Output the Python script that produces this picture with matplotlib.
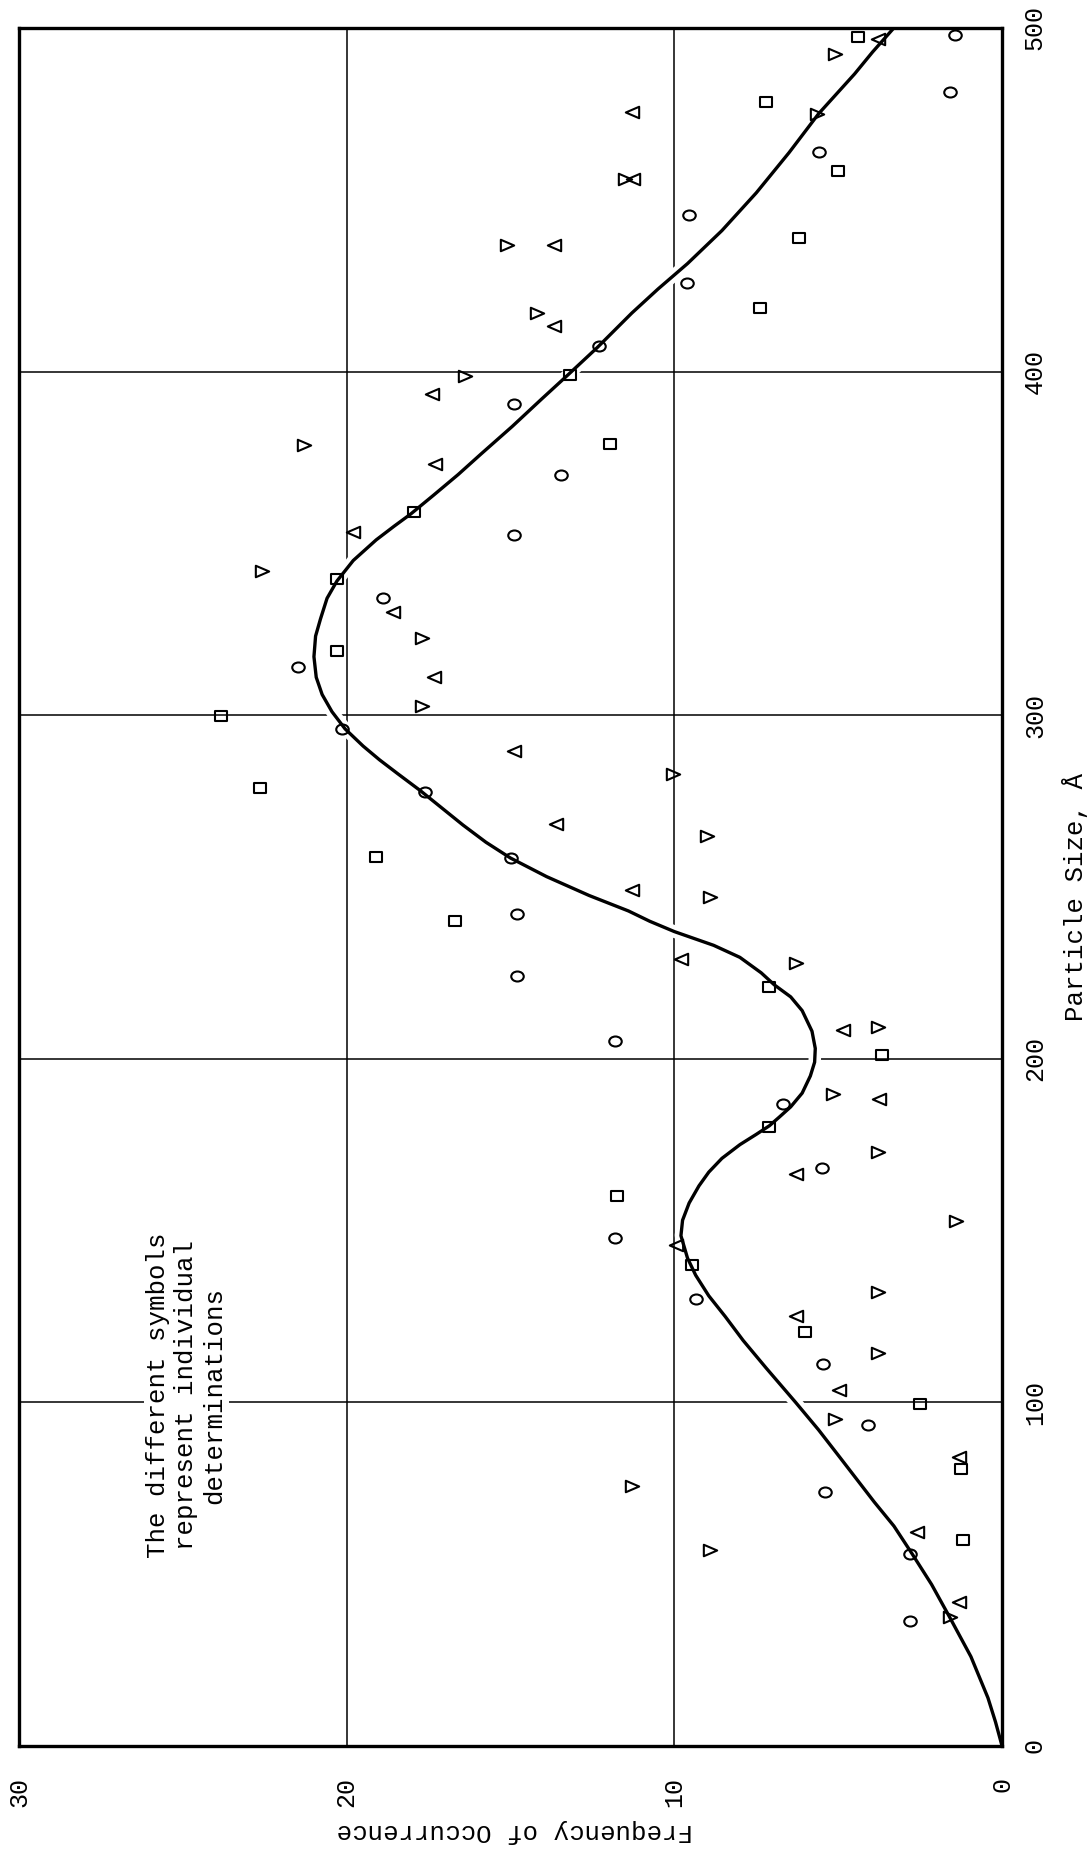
import numpy as np
import matplotlib
matplotlib.use('Agg')
import matplotlib.pyplot as plt
import matplotlib.patheffects as pe
from matplotlib.path import Path

plt.rcParams['font.family'] = ['Liberation Mono', 'DejaVu Sans Mono']

# particle size (A) and frequency of each symbol
circle_size = [498, 481.4, 464, 445.5, 425.8, 407.5, 390.5, 370, 352.5, 334,
               314, 296, 277.5, 258.5, 242, 224, 205.2, 186.9, 168.2, 147.8,
               130, 111.2, 93.5, 74, 56, 36.5]
circle_freq = [1.45, 1.6, 5.6, 9.55, 9.6, 12.3, 14.9, 13.45, 14.9, 18.9,
               21.5, 20.15, 17.6, 15.0, 14.8, 14.8, 11.8, 6.7, 5.5, 11.8,
               9.35, 5.46, 4.1, 5.4, 2.8, 2.8]

square_size = [497.4, 478.5, 458.4, 438.8, 418.5, 399, 379, 359, 339.5, 318.6,
               299.7, 278.8, 258.7, 240, 220.8, 201, 180.2, 160, 140, 120.6,
               99.6, 80.7, 59.8]
square_freq = [4.4, 7.2, 5.0, 6.2, 7.4, 13.2, 11.95, 17.96, 20.3, 20.3,
               23.85, 22.65, 19.1, 16.7, 7.1, 3.65, 7.1, 11.75, 9.45, 6.0,
               2.5, 1.25, 1.2]

left_tri_size = [496.8, 475.6, 456, 436.8, 413.3, 393.4, 373.2, 353.3, 330, 311,
                 289.5, 268.4, 249, 228.9, 208.4, 188.3, 166.4, 145.7, 125,
                 103.7, 84, 62.2, 42]
left_tri_freq = [3.8, 11.3, 11.25, 13.66, 13.66, 17.4, 17.3, 19.8, 18.6, 17.35,
                 14.9, 13.6, 11.3, 9.8, 4.85, 3.75, 6.3, 9.95, 6.3,
                 4.97, 1.3, 2.6, 1.3]

right_tri_size = [492.5, 474.8, 456, 436.7, 417, 398.7, 378.5, 341.9, 322.5, 302.6,
                  282.8, 264.8, 247, 228, 209.3, 189.8, 172.9, 152.8, 132,
                  114.4, 95.3, 75.7, 57, 37.4]
right_tri_freq = [5.1, 5.65, 11.5, 15.1, 14.2, 16.4, 21.3, 22.6, 17.7, 17.7,
                  10.05, 9.0, 8.9, 6.3, 3.8, 5.15, 3.8, 1.4, 3.8,
                  3.8, 5.1, 11.3, 8.9, 1.6]

# hand-drawn fitted curve, points read along it
curve_size = [0, 7, 14, 26, 37.5, 47, 56, 64, 71, 84, 92, 100, 110, 118, 125,
              131, 137, 142, 148.5, 153, 158, 163, 167, 171, 175, 178, 180.5,
              183, 186, 190, 195, 199, 203, 208, 214, 218, 221.5, 225, 229.5,
              233, 237, 240, 243, 247.5, 253, 258.4, 263, 268, 273, 278, 283,
              287, 291, 296, 301, 306, 311, 317, 323, 328, 334, 339, 345, 351,
              355, 358.5, 364, 370, 376, 384, 392, 399, 407, 417, 424, 431.4,
              441, 452, 463.7, 475, 486.6, 493, 500]
curve_freq = [0, 0.2, 0.43, 0.95, 1.6, 2.15, 2.75, 3.3, 3.9, 4.95, 5.6, 6.3, 7.2,
              7.9, 8.45, 8.95, 9.35, 9.6, 9.8, 9.75, 9.55, 9.25, 8.95, 8.55, 8.0,
              7.5, 7.1, 6.8, 6.45, 6.1, 5.85, 5.72, 5.7, 5.8, 6.1, 6.45, 6.95,
              7.35, 8.0, 8.8, 10.0, 10.75, 11.4, 12.6, 13.9, 15.0, 15.75, 16.45,
              17.1, 17.75, 18.45, 19.0, 19.5, 20.05, 20.45, 20.75, 20.93, 21.0,
              20.95, 20.8, 20.6, 20.3, 19.8, 19.1, 18.55, 18.05, 17.35, 16.6,
              15.9, 14.95, 14.05, 13.25, 12.35, 11.3, 10.5, 9.6, 8.55, 7.5, 6.5,
              5.6, 4.5, 3.95, 3.3]

size_ticks = [0, 100, 200, 300, 400, 500]
freq_ticks = [0, 10, 20, 30]

note = "The different symbols\nrepresent individual\ndeterminations"


def make_marker(verts):
    verts = np.asarray(verts, dtype=float)
    codes = [Path.MOVETO] + [Path.LINETO] * (len(verts) - 2) + [Path.CLOSEPOLY]
    return Path(verts, codes)


def ellipse_marker():
    circ = Path.unit_circle()
    return Path(circ.vertices * [1.0, 0.8], circ.codes)


def main():
    fig = plt.figure(figsize=(10.88, 18.59), dpi=100)
    ax = fig.add_axes([0.0175, 0.0608, 0.9035, 0.9242])

    square = make_marker([(-0.5, -0.4), (0.5, -0.4), (0.5, 0.4), (-0.5, 0.4), (0, 0)])
    right_tri = make_marker([(-0.5, -0.43), (0.5, 0), (-0.5, 0.43), (0, 0)])
    left_tri = make_marker([(0.5, -0.43), (-0.5, 0), (0.5, 0.43), (0, 0)])

    ax.plot(curve_freq, curve_size, color='black', lw=2.4, zorder=2,
            solid_joinstyle='round', solid_capstyle='round',
            path_effects=[pe.Stroke(linewidth=9, foreground='white'), pe.Normal()])

    style = dict(ls='none', mfc='none', mec='black', mew=1.5, zorder=3)
    ax.plot(circle_freq, circle_size, marker=ellipse_marker(), ms=9, **style)
    ax.plot(square_freq, square_size, marker=square, ms=9, **style)
    ax.plot(left_tri_freq, left_tri_size, marker=left_tri, ms=9.6, **style)
    ax.plot(right_tri_freq, right_tri_size, marker=right_tri, ms=9.6, **style)

    ax.set_xlim(30, 0)
    ax.set_ylim(0, 500)
    ax.set_xticks(freq_ticks)
    ax.set_yticks(size_ticks)
    ax.set_xticklabels([str(t) for t in freq_ticks], rotation=90, fontsize=18)
    ax.set_yticklabels([str(t) for t in size_ticks], rotation=90, fontsize=18,
                       va='center', ha='left')
    ax.yaxis.tick_right()
    ax.tick_params(axis='x', length=0, pad=22)
    ax.tick_params(axis='y', length=0, pad=15)

    ax.set_axisbelow(True)
    ax.grid(True, color='black', lw=1.1)
    for sp in ax.spines.values():
        sp.set_linewidth(2.4)
        sp.set_zorder(4)

    ax.text(1.074, 0.494, 'Particle Size, Å', transform=ax.transAxes,
            rotation=90, ha='center', va='center', fontsize=18.5)
    ax.text(0.5046, -0.0495, 'Frequency of Occurrence', transform=ax.transAxes,
            rotation=180, ha='center', va='center', fontsize=18.5)

    ax.text(24.9, 102, note, rotation=90, ha='center', va='center',
            multialignment='center', fontsize=18.5, linespacing=1.2, zorder=3,
            bbox=dict(facecolor='white', edgecolor='none', pad=2))

    fig.savefig('out.png', dpi=100)


if __name__ == '__main__':
    main()
